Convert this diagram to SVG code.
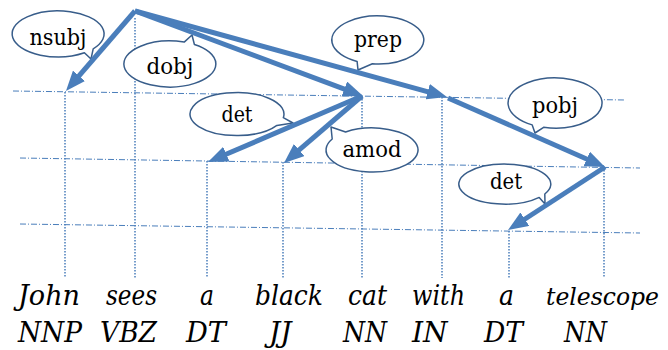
<svg xmlns="http://www.w3.org/2000/svg" width="668" height="350" viewBox="0 0 668 350">
  <style>
    .hgrid { stroke: #4a7ebb; stroke-width: 1; stroke-dasharray: 6 2 1 2; fill: none; }
    .vgrid { stroke: #4a7ebb; stroke-width: 1.5; stroke-dasharray: 1.5 1.5; fill: none; }
    .edge { stroke: #4a7ebb; stroke-width: 5; fill: none; marker-end: url(#head); }
    .bubble { fill: #ffffff; stroke: #385d8a; stroke-width: 1.5; stroke-linejoin: round; }
    .lbl { font-family: 'DejaVu Serif', serif; font-size: 23px; fill: #000; text-anchor: middle; }
    .word { font-family: 'DejaVu Serif', serif; font-size: 28px; font-style: italic; fill: #000; }
    .word.long { font-size: 24px; }
  </style>
  <defs>
    <marker id="head" markerUnits="userSpaceOnUse" markerWidth="20" markerHeight="16" refX="8" refY="8" orient="auto">
      <path d="M0,0 L20,8 L0,16 Z" fill="#4a7ebb"/>
    </marker>
  </defs>

  <!-- level grid -->
  <g id="grid">
    <line class="hgrid" x1="13" y1="91" x2="625" y2="100"/>
    <line class="hgrid" x1="20" y1="158" x2="640" y2="168"/>
    <line class="hgrid" x1="20" y1="224" x2="640" y2="233"/>
    <line class="vgrid" x1="65" y1="92" x2="65" y2="278"/>
    <line class="vgrid" x1="135" y1="18" x2="135" y2="278"/>
    <line class="vgrid" x1="207" y1="161" x2="207" y2="278"/>
    <line class="vgrid" x1="283" y1="162" x2="283" y2="278"/>
    <line class="vgrid" x1="362" y1="96" x2="362" y2="278"/>
    <line class="vgrid" x1="442" y1="97" x2="442" y2="278"/>
    <line class="vgrid" x1="509" y1="231" x2="509" y2="278"/>
    <line class="vgrid" x1="604" y1="167" x2="604" y2="278"/>
  </g>

  <!-- dependency labels -->
  <g id="lbl-nsubj">
    <path class="bubble" d="M93.2,48.8 A46,23 0 1 0 84.4,52.8 L91,59 Z"/>
    <text class="lbl" x="58" y="45" textLength="57" lengthAdjust="spacingAndGlyphs">nsubj</text>
  </g>
  <g id="lbl-dobj">
    <path class="bubble" d="M184.2,42.1 A46,23 0 1 0 194.4,44.5 L192,35 Z"/>
    <text class="lbl" x="170" y="74" textLength="47" lengthAdjust="spacingAndGlyphs">dobj</text>
  </g>
  <g id="lbl-prep">
    <path class="bubble" d="M372.4,63.8 A46,24 0 1 0 357.1,61.4 L358,70 Z"/>
    <text class="lbl" x="378" y="47" textLength="48" lengthAdjust="spacingAndGlyphs">prep</text>
  </g>
  <g id="lbl-det1">
    <path class="bubble" d="M283.3,117.7 A47,21.5 0 1 0 276.9,125.4 L293,123 Z"/>
    <text class="lbl" x="237" y="122" textLength="31" lengthAdjust="spacingAndGlyphs">det</text>
  </g>
  <g id="lbl-amod">
    <path class="bubble" d="M332.2,139 A46,22 0 1 0 345.6,132 L331,127 Z"/>
    <text class="lbl" x="372" y="157" textLength="59" lengthAdjust="spacingAndGlyphs">amod</text>
  </g>
  <g id="lbl-pobj">
    <path class="bubble" d="M543.6,127.3 A47,25 0 1 0 532.2,124.9 L535,133 Z"/>
    <text class="lbl" x="555" y="113" textLength="46" lengthAdjust="spacingAndGlyphs">pobj</text>
  </g>
  <g id="lbl-det2">
    <path class="bubble" d="M544.8,194 A46,20 0 1 0 539.2,197.4 L545,204 Z"/>
    <text class="lbl" x="506" y="189" textLength="32" lengthAdjust="spacingAndGlyphs">det</text>
  </g>

  <!-- dependency arcs -->
  <g id="edges">
    <line class="edge" x1="135" y1="11" x2="73.8" y2="81.9"/>
    <line class="edge" x1="135" y1="11" x2="351.8" y2="91.8"/>
    <line class="edge" x1="135" y1="11" x2="435.4" y2="93.8"/>
    <line class="edge" x1="448" y1="98" x2="594" y2="162.2"/>
    <line class="edge" x1="362" y1="96" x2="219" y2="157.3"/>
    <line class="edge" x1="362" y1="96" x2="293.1" y2="155.2"/>
    <line class="edge" x1="605" y1="167" x2="518.1" y2="223.5"/>
  </g>

  <!-- tokens: word on the first line, POS tag below -->
  <g id="w-john"><text class="word" x="18" y="305" textLength="62" lengthAdjust="spacingAndGlyphs">John</text><text class="word" x="18" y="342" textLength="64" lengthAdjust="spacingAndGlyphs">NNP</text></g>
  <g id="w-sees"><text class="word" x="106" y="305" textLength="51" lengthAdjust="spacingAndGlyphs">sees</text><text class="word" x="100" y="342" textLength="57" lengthAdjust="spacingAndGlyphs">VBZ</text></g>
  <g id="w-a1"><text class="word" x="200" y="305" textLength="14" lengthAdjust="spacingAndGlyphs">a</text><text class="word" x="186" y="342" textLength="40" lengthAdjust="spacingAndGlyphs">DT</text></g>
  <g id="w-black"><text class="word" x="255" y="305" textLength="68" lengthAdjust="spacingAndGlyphs">black</text><text class="word" x="269" y="342">JJ</text></g>
  <g id="w-cat"><text class="word" x="348" y="305" textLength="39" lengthAdjust="spacingAndGlyphs">cat</text><text class="word" x="343" y="342" textLength="44" lengthAdjust="spacingAndGlyphs">NN</text></g>
  <g id="w-with"><text class="word" x="412" y="305" textLength="53" lengthAdjust="spacingAndGlyphs">with</text><text class="word" x="412" y="342">IN</text></g>
  <g id="w-a2"><text class="word" x="499" y="305" textLength="15" lengthAdjust="spacingAndGlyphs">a</text><text class="word" x="484" y="342" textLength="39" lengthAdjust="spacingAndGlyphs">DT</text></g>
  <g id="w-telescope"><text class="word long" x="546" y="305" textLength="113" lengthAdjust="spacingAndGlyphs">telescope</text><text class="word" x="564" y="342" textLength="43" lengthAdjust="spacingAndGlyphs">NN</text></g>
</svg>
